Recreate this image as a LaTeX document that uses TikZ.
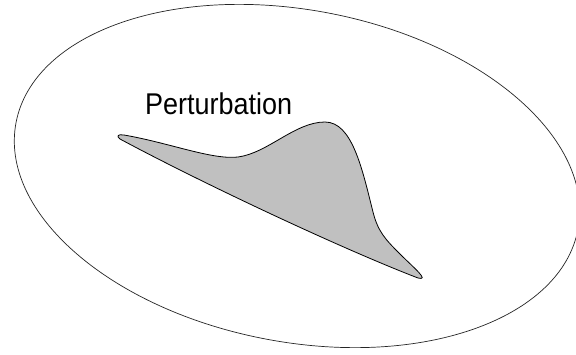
\documentclass[tikz,border=0pt]{standalone}
\usepackage{fontspec}
\newfontfamily\labfont{Liberation Sans}
\definecolor{blobgray}{HTML}{C0C0C0}
\tikzset{
  outer/.style={draw=black!85, line width=0.7pt},
  blob/.style={draw=black, line width=0.8pt, fill=blobgray},
  lab/.style={font=\labfont\fontsize{30}{33}\selectfont, inner sep=0pt, xscale=0.9, anchor=base west}
}
\begin{document}
\begin{tikzpicture}[x=1pt,y=-1pt]
\useasboundingbox (0,0) rectangle (576,354);
\fill[white] (0,0) rectangle (576,354);
\draw[outer, rotate around={-10.75:(297,176)}] (297,176) ellipse [x radius=286, y radius=166];
\draw[blob] (120,139)
  .. controls (116,136) and (118,134) .. (124,135)
  .. controls (170,143) and (212,160) .. (238,157)
  .. controls (268,153) and (295,122) .. (325,122)
  .. controls (352,122) and (362,168) .. (373,212)
  .. controls (378,232) and (386,240) .. (400,254)
  .. controls (414,268) and (430,281) .. (418,278)
  .. controls (340,248) and (200,182) .. (120,139) -- cycle;
\node[lab] (t) at (145,114) {Perturbation};
\end{tikzpicture}
\end{document}
